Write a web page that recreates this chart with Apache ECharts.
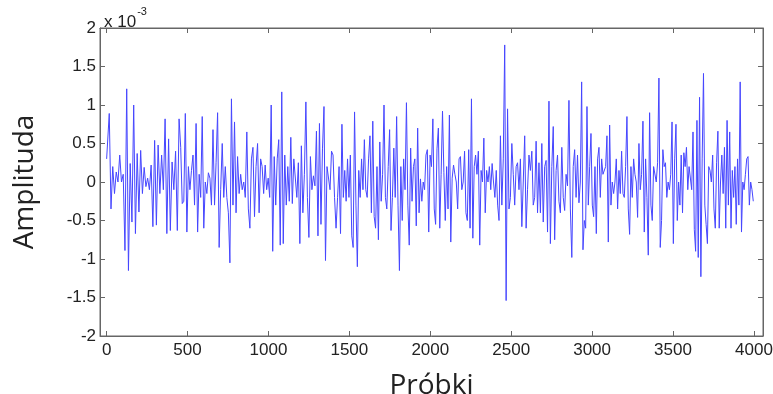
<!DOCTYPE html>
<html>
<head>
<meta charset="utf-8">
<script src="https://cdn.jsdelivr.net/npm/echarts@6/dist/echarts.min.js"></script>
<style>
html,body{margin:0;padding:0;background:#fff;}
#chart{width:773px;height:394px;}
</style>
</head>
<body>
<div id="chart"></div>
<script>
// Amplitude values (in units of 1e-3)
const segBounds = [0, 453, 947, 1441, 1935, 2429, 2923, 3417, 4000];
const seg1 = [0.30,0.89,-0.35,0.20,-0.15,0.13,0.0,0.35,0.0,0.10,-0.89,1.21,-1.15,0.24,-0.52,1.0,-0.67,0.37,-0.39,0.41,-0.15,0.19,-0.06,0.05,-0.1,0.22,-0.58,0.54,-0.56,0.48,-0.15,0.35,-0.10,0.82,-0.67,0.56,-0.63,0.26,-0.1,0.40,-0.63,0.82];
const seg2 = [0.45,-0.28,-0.25,0.89,-0.65,0.2,-0.1,0.15,0.35,-0.3,0.76,-0.65,0.1,-0.2,0.85,-0.6,0.0,-0.15,0.12,0.05,-0.3,0.68,-0.3,0.25,0.9,-0.85,-0.1,0.5,-0.2,0.2,-0.2,-0.4,-1.05,1.08,-0.3,0.78,-0.4,0.33,-0.15,0.1,-0.1,0.0,-0.2,0.65,-0.35,-0.6,0.3,0.45,-0.45,0.2,0.5,-0.4];
const seg3 = [0.3,0.2,-0.15,0.22,-0.1,0.05,-0.2,1.0,-0.9,0.33,-0.3,0.3,0.55,-0.82,1.17,-0.8,0.35,-0.3,0.2,-0.25,0.58,-0.28,0.3,0.32,-0.2,0.25,-0.8,0.47,-0.4,0.1,1.04,-0.2,-0.72,0.33,-0.1,0.08,-0.05,0.66,-0.7,0.76,-0.55,0.43,0.98,-1.02,0.2,0.22,-0.1,0.4,0.35,-0.2,-0.6,-0.2,0.2];
const seg4 = [-0.67,0.75,-0.2,0.15,-0.25,0.3,-0.2,0.35,-0.7,-0.85,0.91,-0.3,-1.1,0.15,-0.2,0.3,-0.1,0.55,-0.1,-0.2,0.3,0.6,-0.4,0.79,-0.45,-0.6,0.2,-0.75,0.52,-0.25,0.1,1.0,-0.2,-0.35,0.2,0.68,-0.63,-0.2,0.44,-0.2,0.85,-0.3,-1.15,0.2,-0.5,0.3,-0.1,1.03,-0.3,-0.82,0.44,-0.25,0.2,0.3,-0.57,0.7,-0.4];
const seg5 = [0.04,-0.25,0.0,-0.1,0.35,0.42,-0.65,0.35,0.2,0.82,-0.35,-0.55,0.43,0.7,-0.6,0.1,0.92,0.12,-0.5,0.2,-0.35,0.87,-0.78,0.05,0.22,0.1,0.0,-0.35,0.3,0.33,-0.1,0.0,0.4,-0.4,-0.5,0.42,-0.6,1.08,-0.73,0.2,0.35,0.1,0.4,-0.82,0.15,0.0,0.57,-0.4,0.15,0.0,0.2,-0.1,0.24,0.0,-0.2,0.15,-0.3,-0.5];
const seg6 = [0.6,-0.3,0.3,1.78,-1.54,0.95,-0.35,-0.2,0.5,0.1,-0.3,0.2,0.25,-0.1,0.3,-0.58,0.0,0.6,-0.6,-0.1,0.35,0.15,0.4,-0.3,-0.2,0.53,-0.4,0.25,-0.4,0.5,-0.52,0.2,0.28,-0.65,1.05,-0.8,0.2,0.72,-0.75,0.15,0.35,-0.25,-0.4,0.45,-0.2,-0.37,0.1,-0.05,1.06,-0.35,-0.98,0.2,0.42,-0.2,0.35,-0.27];
const seg7 = [0.0,1.3,-0.88,-0.5,-0.6,0.98,-0.3,0.2,0.63,-0.3,-0.45,0.2,-0.67,0.3,0.45,-0.2,0.3,0.1,0.1,0.2,0.6,-0.78,0.74,-0.3,0.0,-0.15,0.0,0.3,-0.35,0.15,-0.15,0.4,-0.15,-0.2,0.2,0.85,-0.35,-0.68,0.2,-0.2,0.3,0.1,0.0,-0.46,0.5,-0.1,0.1,0.79,-0.65,0.3,-0.2,-0.95,0.9,-0.3,-0.5,0.2,0.2,0.0,0.25,1.35];
const seg8 = [-0.85,-0.5,0.42,0.2,0.25,-0.2,0.0,-0.1,0.1,0.78,-0.8,0.3,0.75,-0.5,0.0,-0.3,0.35,-0.4,0.38,0.2,0.45,-0.1,0.2,0.2,-0.1,0.65,-0.62,-0.9,0.8,-0.98,1.1,-1.23,0.3,1.41,-0.3,-0.55,-0.8,0.2,0.15,0.0,0.35,-0.35,-0.6,0.25,0.66,-0.6,0.0,0.35,-0.15,0.45,-0.6,0.8,-0.3,0.65,-0.6,0.15,-0.2,0.2,-0.55,0.3,-0.3,1.3,-0.65,0.0,-0.1,0.1,0.3,0.33,-0.3,0.0,-0.1,-0.25];
const segments = [seg1, seg2, seg3, seg4, seg5, seg6, seg7, seg8];
const xTicks = [0, 500, 1000, 1500, 2000, 2500, 3000, 3500, 4000];
const yTicks = [-2, -1.5, -1, -0.5, 0, 0.5, 1, 1.5, 2];

// Build [sample, amplitude] pairs, spreading each segment across its sample range
const data = [];
segments.forEach((seg, k) => {
  const a = segBounds[k], b = segBounds[k + 1];
  const n = seg.length;
  seg.forEach((v, j) => {
    const s = (k === 0 && j === 0) ? a : a + (j + 0.5) * (b - a) / n;
    data.push([s, v]);
  });
});

const chart = echarts.init(document.getElementById('chart'), null, {renderer: 'canvas'});
const axisColor = '#666';
const tickFont = {fontFamily: 'Liberation Sans, Arial, sans-serif', fontSize: 17, color: '#222'};
chart.setOption({
  animation: false,
  backgroundColor: '#fff',
  title: {
    left: 99, top: 1,
    text: '{a|x 10}{b|-3}',
    textStyle: {
      fontWeight: 'normal',
      rich: {
        a: {fontFamily: 'Liberation Sans, Arial, sans-serif', fontSize: 17, fontWeight: 'normal', color: '#222', padding: [8, 0, 0, 0]},
        b: {fontFamily: 'Liberation Sans, Arial, sans-serif', fontSize: 11, fontWeight: 'normal', color: '#222', verticalAlign: 'top', padding: [0, 0, 10, 1]}
      }
    }
  },
  grid: {left: 100, right: 10, top: 28, bottom: 58, show: true, borderColor: axisColor, borderWidth: 1, containLabel: false, outerBoundsMode: 'none'},
  xAxis: [{
    type: 'value', min: -41, max: 4056, position: 'bottom',
    name: 'Próbki', nameLocation: 'middle', nameGap: 36,
    nameTextStyle: {fontFamily: 'Open Sans, sans-serif', fontSize: 28, color: '#222'},
    axisLine: {show: true, onZero: false, lineStyle: {color: axisColor}},
    axisTick: {show: true, inside: true, length: 5, lineStyle: {color: axisColor}, customValues: xTicks},
    axisLabel: {show: true, margin: 6, customValues: xTicks, formatter: v => String(v), ...tickFont},
    splitLine: {show: false}
  }, {
    type: 'value', min: -41, max: 4056, position: 'top',
    axisLine: {show: true, onZero: false, lineStyle: {color: axisColor}},
    axisTick: {show: true, inside: true, length: 5, lineStyle: {color: axisColor}, customValues: xTicks},
    axisLabel: {show: false},
    splitLine: {show: false}
  }],
  yAxis: [{
    type: 'value', min: -2, max: 2, interval: 0.5, position: 'left',
    name: 'Amplituda', nameLocation: 'middle', nameGap: 61,
    nameTextStyle: {fontFamily: 'Open Sans, sans-serif', fontSize: 28, color: '#222'},
    axisLine: {show: true, onZero: false, lineStyle: {color: axisColor}},
    axisTick: {show: true, inside: true, length: 5, lineStyle: {color: axisColor}},
    axisLabel: {show: true, margin: 4, formatter: v => String(v), ...tickFont},
    splitLine: {show: false}
  }, {
    type: 'value', min: -2, max: 2, interval: 0.5, position: 'right',
    axisLine: {show: true, onZero: false, lineStyle: {color: axisColor}},
    axisTick: {show: true, inside: true, length: 5, lineStyle: {color: axisColor}},
    axisLabel: {show: false},
    splitLine: {show: false}
  }],
  series: [{
    type: 'line',
    data: data,
    xAxisIndex: 0, yAxisIndex: 0,
    showSymbol: false,
    symbol: 'none',
    lineStyle: {color: '#4646ff', width: 1},
    silent: true
  }]
});
</script>
</body>
</html>
